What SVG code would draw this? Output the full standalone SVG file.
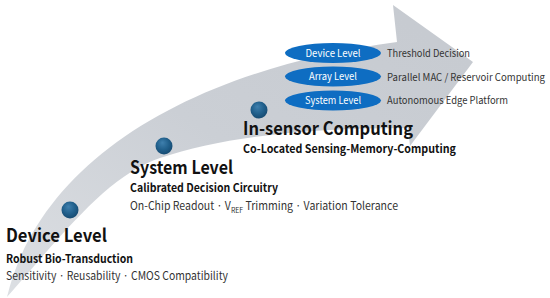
<svg xmlns="http://www.w3.org/2000/svg" width="550" height="298" viewBox="0 0 550 298">
<defs>
<linearGradient id="band" x1="0" y1="1" x2="1" y2="0">
<stop offset="0" stop-color="#DCDFE3"/>
<stop offset="0.5" stop-color="#CBCFD5"/>
<stop offset="1" stop-color="#C6CAD0"/>
</linearGradient>
<radialGradient id="dot" cx="0.45" cy="0.4" r="0.6" fx="0.4" fy="0.3">
<stop offset="0" stop-color="#3F80AE"/>
<stop offset="0.6" stop-color="#21608C"/>
<stop offset="1" stop-color="#164B72"/>
</radialGradient>
<style>
text{font-family:"Noto Sans CJK KR","Noto Sans",sans-serif}
.h{font-weight:bold;font-size:18px;fill:#111}
.s{font-weight:bold;font-size:11.5px;fill:#111}
.d{font-size:11.5px;fill:#333}
.p{fill:#0E6DC2}
.pt{font-size:10px;fill:#fff;text-anchor:middle}
.r{font-size:10px;fill:#333}
.dot{fill:url(#dot)}
</style>
</defs>
<rect width="550" height="298" fill="#fff"/>
<g id="connectors">
<path id="progress-arrow" d="M7,297 C40,160 190,70 397,42 L393,5 L473,62 L410,146 L408,128 C300,128 220,138 160,158 C110,175 70,225 7,297 Z" fill="url(#band)"/>
</g>
<g id="stage-device">
<circle class="dot" cx="70" cy="210" r="8.5"/>
<text class="h" x="6" y="242" textLength="101" lengthAdjust="spacingAndGlyphs">Device Level</text>
<text class="s" x="6" y="262.5" textLength="127" lengthAdjust="spacingAndGlyphs">Robust Bio-Transduction</text>
<text class="d" x="6" y="279.5" textLength="222" lengthAdjust="spacingAndGlyphs">Sensitivity · Reusability · CMOS Compatibility</text>
</g>
<g id="stage-system">
<circle class="dot" cx="164" cy="146" r="8.5"/>
<text class="h" x="130" y="174" textLength="103" lengthAdjust="spacingAndGlyphs">System Level</text>
<text class="s" x="130" y="192" textLength="148" lengthAdjust="spacingAndGlyphs">Calibrated Decision Circuitry</text>
<text class="d" x="130" y="210" textLength="268" lengthAdjust="spacingAndGlyphs">On-Chip Readout · V<tspan baseline-shift="-2.5" font-size="7.5">REF</tspan> Trimming · Variation Tolerance</text>
</g>
<g id="stage-insensor">
<circle class="dot" cx="259" cy="110" r="8.5"/>
<text class="h" x="243" y="134.5" textLength="170" lengthAdjust="spacingAndGlyphs">In-sensor Computing</text>
<text class="s" x="243" y="153" textLength="213" lengthAdjust="spacingAndGlyphs">Co-Located Sensing-Memory-Computing</text>
</g>
<g id="level-device">
<ellipse class="p" cx="333" cy="53" rx="48" ry="10"/>
<text class="pt" x="333" y="56.5" textLength="55" lengthAdjust="spacingAndGlyphs">Device Level</text>
<text class="r" x="387" y="57" textLength="83" lengthAdjust="spacingAndGlyphs">Threshold Decision</text>
</g>
<g id="level-array">
<ellipse class="p" cx="333" cy="76.5" rx="48" ry="10"/>
<text class="pt" x="333" y="80" textLength="48" lengthAdjust="spacingAndGlyphs">Array Level</text>
<text class="r" x="387" y="80.5" textLength="158" lengthAdjust="spacingAndGlyphs">Parallel MAC / Reservoir Computing</text>
</g>
<g id="level-system">
<ellipse class="p" cx="333" cy="100.5" rx="48" ry="10"/>
<text class="pt" x="333" y="104" textLength="56" lengthAdjust="spacingAndGlyphs">System Level</text>
<text class="r" x="387" y="104" textLength="121" lengthAdjust="spacingAndGlyphs">Autonomous Edge Platform</text>
</g>
</svg>
